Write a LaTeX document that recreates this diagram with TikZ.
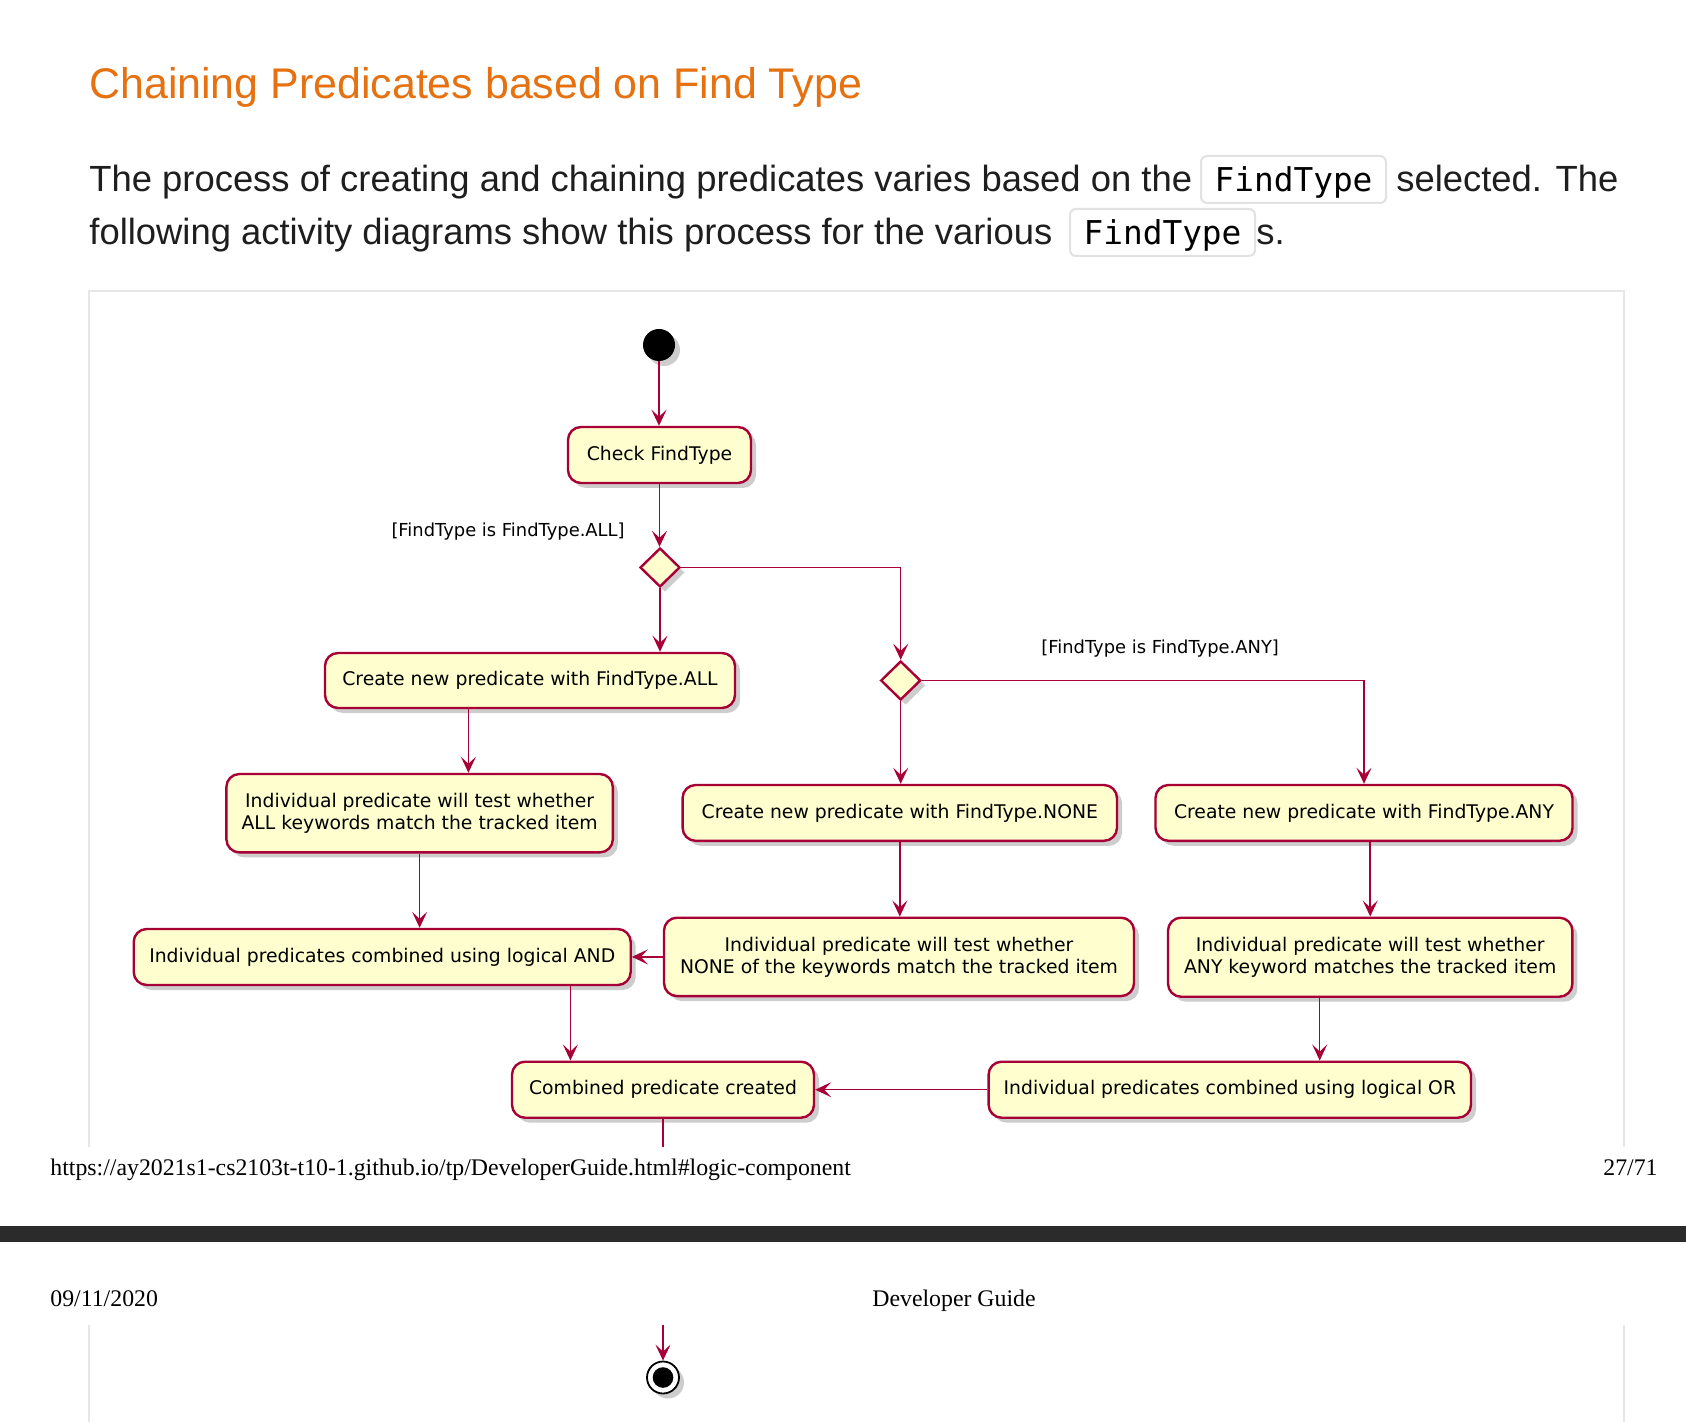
\documentclass[tikz,border=0pt]{standalone}
\usepackage{fontspec}
\setmainfont{Liberation Sans}
\newfontfamily\umlfont{DejaVu Sans}
\newfontfamily\codefont{DejaVu Sans Mono}
\newfontfamily\serifft{Liberation Serif}
\usetikzlibrary{shapes.geometric,arrows.meta,shadows}
\definecolor{umlred}{HTML}{A80036}
\definecolor{umlfill}{HTML}{FEFECE}
\definecolor{titleor}{HTML}{E67111}
\definecolor{framegr}{HTML}{E6E6E6}
\definecolor{codegr}{HTML}{E2E2E2}
\definecolor{barc}{HTML}{2B2B2B}
\definecolor{bodytext}{HTML}{1E1E1E}
\begin{document}
\begin{tikzpicture}[x=0.5pt,y=-0.5pt,
  umlshadow/.style={drop shadow={shadow xshift=2.5pt,shadow yshift=-2.5pt,opacity=0.28,fill=black!70}},
  actbox/.style={draw=umlred,fill=umlfill,line width=1.2pt,rounded corners=6.5pt,umlshadow,
     font=\umlfont\fontsize{9.4}{11}\selectfont,align=center,inner sep=0pt},
  decis/.style={diamond,draw=umlred,fill=umlfill,line width=1.2pt,inner sep=0pt,
     minimum width=20pt,minimum height=19.5pt,umlshadow},
  arr/.style={draw=umlred,line width=0.75pt,-{Stealth[length=8pt,width=7.5pt,inset=3.5pt]}},
  plainline/.style={draw=umlred,line width=0.75pt},
  lbl/.style={inner sep=0pt,font=\umlfont\fontsize{8.95}{10}\selectfont},
  bodyt/.style={anchor=base west,inner sep=0pt,text=bodytext,font=\fontsize{18.2}{22}\selectfont},
  codebox/.style={anchor=base west,draw=codegr,line width=1pt,rounded corners=3pt,inner xsep=0pt,
     inner ysep=0pt,minimum width=92.5pt,text height=18pt,text depth=5.5pt,text=black,
     font=\codefont\fontsize{16.4}{20}\selectfont},
  foot/.style={inner sep=0pt,font=\serifft\fontsize{11.9}{14}\selectfont},
  framel/.style={draw=framegr,line width=1.3pt}
]
\useasboundingbox (0,0) rectangle (1686,1422);
\fill[white] (0,0) rectangle (1686,1422);

% heading and paragraph
\node[anchor=base west,inner sep=0pt,text=titleor,font=\fontsize{21.45}{25}\selectfont] (title) at (89,99)
  {Chaining Predicates based on Find Type};
\node[bodyt] (p1a) at (89,192) {The process of creating and chaining predicates varies based on the};
\node[codebox] (c1) at (1200,192) {FindType};
\node[bodyt] (p1b) at (1396,192) {selected. The};
\node[bodyt] (p2a) at (89,245) {following activity diagrams show this process for the various};
\node[codebox] (c2) at (1069,245) {FindType};
\node[bodyt] (p2b) at (1256,245) {s.};

% diagram frame
\draw[framel] (89,1147) -- (89,291) -- (1624,291) -- (1624,1147);
\draw[framel] (89,1325) -- (89,1422);
\draw[framel] (1624,1325) -- (1624,1422);

% activity nodes
\node[circle,fill=black,minimum size=16pt,inner sep=0pt,umlshadow] (start) at (659,345) {};
\node[actbox,minimum width=91.5pt,minimum height=28pt] (chk) at (659.5,455) {Check FindType};
\node[decis] (d1) at (660,567.5) {};
\node[decis] (d2) at (900.7,680.5) {};
\node[actbox,minimum width=205pt,minimum height=27.5pt] (crall) at (530,680.5) {Create new predicate with FindType.ALL};
\node[actbox,minimum width=193.2pt,minimum height=39.2pt] (indall) at (419.6,813.2)
  {Individual predicate will test whether\\ALL keywords match the tracked item};
\node[actbox,minimum width=217.2pt,minimum height=27.9pt] (crnone) at (899.8,812.9) {Create new predicate with FindType.NONE};
\node[actbox,minimum width=208.5pt,minimum height=27.9pt] (crany) at (1364,812.9) {Create new predicate with FindType.ANY};
\node[actbox,minimum width=248.5pt,minimum height=28pt] (nand) at (382.2,957) {Individual predicates combined using logical AND};
\node[actbox,minimum width=235pt,minimum height=39.2pt] (indnone) at (899,956.9)
  {Individual predicate will test whether\\NONE of the keywords match the tracked item};
\node[actbox,minimum width=202.2pt,minimum height=39.5pt] (indany) at (1370.2,957.2)
  {Individual predicate will test whether\\ANY keyword matches the tracked item};
\node[actbox,minimum width=151pt,minimum height=28pt] (comb) at (663,1089.7) {Combined predicate created};
\node[actbox,minimum width=241.2pt,minimum height=28pt] (nor) at (1229.8,1089.7) {Individual predicates combined using logical OR};

% guard labels
\node[lbl,anchor=base east] (lball) at (625,537) {[FindType is FindType.ALL]};
\node[lbl,anchor=base west] (lbany) at (1041,653) {[FindType is FindType.ANY]};

% helper coordinates for offset connectors
\coordinate (xa) at (468.4,0);
\coordinate (xb) at (570.4,0);
\coordinate (xc) at (1319.7,0);
\coordinate (cut1) at (663,1147);
\coordinate (cut2) at (663,1325);

% connectors
\draw[arr] (start) -- (start |- chk.north);
\draw[arr] (chk.south) -- (chk.south |- d1.north);
\draw[arr] (d1.south) -- (d1.south |- crall.north);
\draw[arr] (d1.east) -| (d2.north);
\draw[arr] (d2.east) -| (crany.north);
\draw[arr] (d2.south) -- (d2.south |- crnone.north);
\draw[arr] (crall.south -| xa) -- (indall.north -| xa);
\draw[arr] (indall.south) -- (indall.south |- nand.north);
\draw[arr] (crnone.south) -- (crnone.south |- indnone.north);
\draw[arr] (crany.south -| indany.north) -- (indany.north);
\draw[arr] (indnone.west) -- (indnone.west -| nand.east);
\draw[arr] (nand.south -| xb) -- (comb.north -| xb);
\draw[arr] (indany.south -| xc) -- (nor.north -| xc);
\draw[arr] (nor.west) -- (comb.east);
\draw[plainline] (comb.south) -- (cut1);

% page footer / header
\node[foot,anchor=base west] (url) at (50,1175) {https://ay2021s1-cs2103t-t10-1.github.io/tp/DeveloperGuide.html\#logic-component};
\node[foot,anchor=base east] (pg) at (1658,1175) {27/71};
\fill[barc] (0,1226) rectangle (1686,1242);
\node[foot,anchor=base west] (date) at (50,1306) {09/11/2020};
\node[foot,anchor=base west] (dg) at (872,1306) {Developer Guide};

% end node
\node[circle,draw=black,line width=0.9pt,fill=white,minimum size=16pt,inner sep=0pt,umlshadow] (endn) at (663,1377.5) {};
\node[circle,fill=black,minimum size=10.3pt,inner sep=0pt] (enddot) at (endn) {};
\draw[arr] (cut2) -- (endn.north);
\end{tikzpicture}
\end{document}
